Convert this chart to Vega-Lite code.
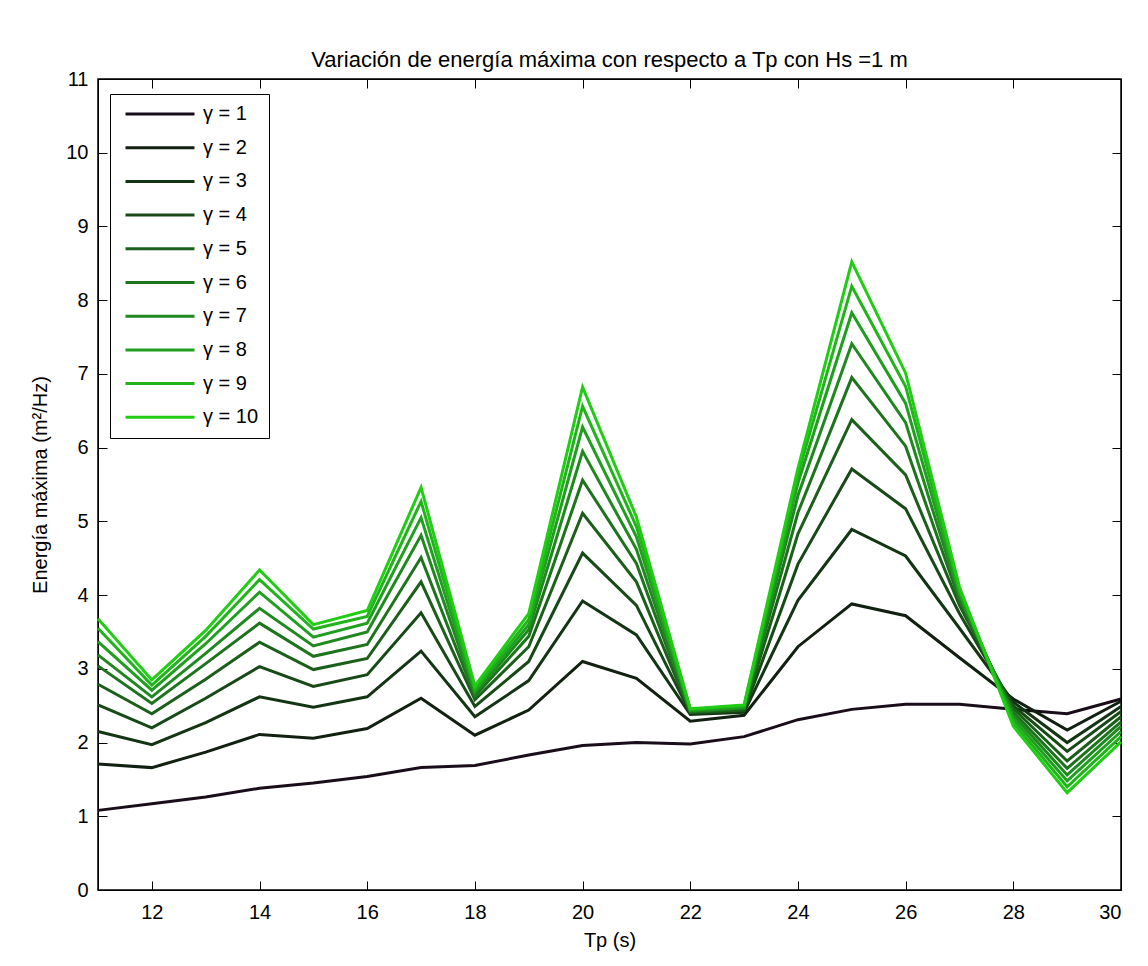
{
  "$schema": "https://vega.github.io/schema/vega-lite/v6.json",
  "width": 1023,
  "height": 811,
  "autosize": {"type": "none"},
  "padding": {"left": 98, "top": 79, "right": 27, "bottom": 76},
  "background": "white",
  "title": {"text": "Variación de energía máxima con respecto a Tp con Hs =1 m", "font": "Liberation Sans", "fontSize": 22, "fontWeight": "normal", "color": "black", "offset": -3, "anchor": "middle"},
  "config": {"view": {"stroke": "black", "strokeWidth": 1.5}, "font": "Liberation Sans"},
  "datasets": {
    "energia": [
      {"tp": 11, "gamma": 1, "e": 1.08}, {"tp": 11, "gamma": 2, "e": 1.71}, {"tp": 11, "gamma": 3, "e": 2.15}, {"tp": 11, "gamma": 4, "e": 2.51}, {"tp": 11, "gamma": 5, "e": 2.79}, {"tp": 11, "gamma": 6, "e": 3.04}, {"tp": 11, "gamma": 7, "e": 3.19}, {"tp": 11, "gamma": 8, "e": 3.37}, {"tp": 11, "gamma": 9, "e": 3.55}, {"tp": 11, "gamma": 10, "e": 3.68},
      {"tp": 12, "gamma": 1, "e": 1.17}, {"tp": 12, "gamma": 2, "e": 1.66}, {"tp": 12, "gamma": 3, "e": 1.97}, {"tp": 12, "gamma": 4, "e": 2.2}, {"tp": 12, "gamma": 5, "e": 2.39}, {"tp": 12, "gamma": 6, "e": 2.53}, {"tp": 12, "gamma": 7, "e": 2.62}, {"tp": 12, "gamma": 8, "e": 2.71}, {"tp": 12, "gamma": 9, "e": 2.78}, {"tp": 12, "gamma": 10, "e": 2.85},
      {"tp": 13, "gamma": 1, "e": 1.26}, {"tp": 13, "gamma": 2, "e": 1.87}, {"tp": 13, "gamma": 3, "e": 2.27}, {"tp": 13, "gamma": 4, "e": 2.6}, {"tp": 13, "gamma": 5, "e": 2.86}, {"tp": 13, "gamma": 6, "e": 3.07}, {"tp": 13, "gamma": 7, "e": 3.21}, {"tp": 13, "gamma": 8, "e": 3.34}, {"tp": 13, "gamma": 9, "e": 3.44}, {"tp": 13, "gamma": 10, "e": 3.52},
      {"tp": 14, "gamma": 1, "e": 1.38}, {"tp": 14, "gamma": 2, "e": 2.11}, {"tp": 14, "gamma": 3, "e": 2.62}, {"tp": 14, "gamma": 4, "e": 3.03}, {"tp": 14, "gamma": 5, "e": 3.36}, {"tp": 14, "gamma": 6, "e": 3.62}, {"tp": 14, "gamma": 7, "e": 3.82}, {"tp": 14, "gamma": 8, "e": 4.04}, {"tp": 14, "gamma": 9, "e": 4.21}, {"tp": 14, "gamma": 10, "e": 4.34},
      {"tp": 15, "gamma": 1, "e": 1.45}, {"tp": 15, "gamma": 2, "e": 2.06}, {"tp": 15, "gamma": 3, "e": 2.48}, {"tp": 15, "gamma": 4, "e": 2.76}, {"tp": 15, "gamma": 5, "e": 2.99}, {"tp": 15, "gamma": 6, "e": 3.17}, {"tp": 15, "gamma": 7, "e": 3.31}, {"tp": 15, "gamma": 8, "e": 3.43}, {"tp": 15, "gamma": 9, "e": 3.54}, {"tp": 15, "gamma": 10, "e": 3.6},
      {"tp": 16, "gamma": 1, "e": 1.54}, {"tp": 16, "gamma": 2, "e": 2.19}, {"tp": 16, "gamma": 3, "e": 2.62}, {"tp": 16, "gamma": 4, "e": 2.92}, {"tp": 16, "gamma": 5, "e": 3.14}, {"tp": 16, "gamma": 6, "e": 3.33}, {"tp": 16, "gamma": 7, "e": 3.5}, {"tp": 16, "gamma": 8, "e": 3.62}, {"tp": 16, "gamma": 9, "e": 3.71}, {"tp": 16, "gamma": 10, "e": 3.79},
      {"tp": 17, "gamma": 1, "e": 1.66}, {"tp": 17, "gamma": 2, "e": 2.6}, {"tp": 17, "gamma": 3, "e": 3.24}, {"tp": 17, "gamma": 4, "e": 3.76}, {"tp": 17, "gamma": 5, "e": 4.18}, {"tp": 17, "gamma": 6, "e": 4.51}, {"tp": 17, "gamma": 7, "e": 4.81}, {"tp": 17, "gamma": 8, "e": 5.05}, {"tp": 17, "gamma": 9, "e": 5.27}, {"tp": 17, "gamma": 10, "e": 5.46},
      {"tp": 18, "gamma": 1, "e": 1.69}, {"tp": 18, "gamma": 2, "e": 2.1}, {"tp": 18, "gamma": 3, "e": 2.35}, {"tp": 18, "gamma": 4, "e": 2.49}, {"tp": 18, "gamma": 5, "e": 2.58}, {"tp": 18, "gamma": 6, "e": 2.63}, {"tp": 18, "gamma": 7, "e": 2.67}, {"tp": 18, "gamma": 8, "e": 2.7}, {"tp": 18, "gamma": 9, "e": 2.73}, {"tp": 18, "gamma": 10, "e": 2.77},
      {"tp": 19, "gamma": 1, "e": 1.83}, {"tp": 19, "gamma": 2, "e": 2.44}, {"tp": 19, "gamma": 3, "e": 2.84}, {"tp": 19, "gamma": 4, "e": 3.1}, {"tp": 19, "gamma": 5, "e": 3.3}, {"tp": 19, "gamma": 6, "e": 3.44}, {"tp": 19, "gamma": 7, "e": 3.53}, {"tp": 19, "gamma": 8, "e": 3.6}, {"tp": 19, "gamma": 9, "e": 3.67}, {"tp": 19, "gamma": 10, "e": 3.75},
      {"tp": 20, "gamma": 1, "e": 1.96}, {"tp": 20, "gamma": 2, "e": 3.1}, {"tp": 20, "gamma": 3, "e": 3.92}, {"tp": 20, "gamma": 4, "e": 4.57}, {"tp": 20, "gamma": 5, "e": 5.11}, {"tp": 20, "gamma": 6, "e": 5.56}, {"tp": 20, "gamma": 7, "e": 5.95}, {"tp": 20, "gamma": 8, "e": 6.28}, {"tp": 20, "gamma": 9, "e": 6.56}, {"tp": 20, "gamma": 10, "e": 6.82},
      {"tp": 21, "gamma": 1, "e": 2.0}, {"tp": 21, "gamma": 2, "e": 2.87}, {"tp": 21, "gamma": 3, "e": 3.46}, {"tp": 21, "gamma": 4, "e": 3.86}, {"tp": 21, "gamma": 5, "e": 4.18}, {"tp": 21, "gamma": 6, "e": 4.43}, {"tp": 21, "gamma": 7, "e": 4.62}, {"tp": 21, "gamma": 8, "e": 4.79}, {"tp": 21, "gamma": 9, "e": 4.93}, {"tp": 21, "gamma": 10, "e": 5.06},
      {"tp": 22, "gamma": 1, "e": 1.98}, {"tp": 22, "gamma": 2, "e": 2.29}, {"tp": 22, "gamma": 3, "e": 2.38}, {"tp": 22, "gamma": 4, "e": 2.4}, {"tp": 22, "gamma": 5, "e": 2.41}, {"tp": 22, "gamma": 6, "e": 2.42}, {"tp": 22, "gamma": 7, "e": 2.43}, {"tp": 22, "gamma": 8, "e": 2.44}, {"tp": 22, "gamma": 9, "e": 2.45}, {"tp": 22, "gamma": 10, "e": 2.46},
      {"tp": 23, "gamma": 1, "e": 2.08}, {"tp": 23, "gamma": 2, "e": 2.37}, {"tp": 23, "gamma": 3, "e": 2.41}, {"tp": 23, "gamma": 4, "e": 2.43}, {"tp": 23, "gamma": 5, "e": 2.44}, {"tp": 23, "gamma": 6, "e": 2.46}, {"tp": 23, "gamma": 7, "e": 2.47}, {"tp": 23, "gamma": 8, "e": 2.48}, {"tp": 23, "gamma": 9, "e": 2.5}, {"tp": 23, "gamma": 10, "e": 2.51},
      {"tp": 24, "gamma": 1, "e": 2.31}, {"tp": 24, "gamma": 2, "e": 3.3}, {"tp": 24, "gamma": 3, "e": 3.93}, {"tp": 24, "gamma": 4, "e": 4.42}, {"tp": 24, "gamma": 5, "e": 4.83}, {"tp": 24, "gamma": 6, "e": 5.12}, {"tp": 24, "gamma": 7, "e": 5.35}, {"tp": 24, "gamma": 8, "e": 5.52}, {"tp": 24, "gamma": 9, "e": 5.63}, {"tp": 24, "gamma": 10, "e": 5.72},
      {"tp": 25, "gamma": 1, "e": 2.45}, {"tp": 25, "gamma": 2, "e": 3.88}, {"tp": 25, "gamma": 3, "e": 4.89}, {"tp": 25, "gamma": 4, "e": 5.71}, {"tp": 25, "gamma": 5, "e": 6.38}, {"tp": 25, "gamma": 6, "e": 6.95}, {"tp": 25, "gamma": 7, "e": 7.41}, {"tp": 25, "gamma": 8, "e": 7.83}, {"tp": 25, "gamma": 9, "e": 8.19}, {"tp": 25, "gamma": 10, "e": 8.52},
      {"tp": 26, "gamma": 1, "e": 2.52}, {"tp": 26, "gamma": 2, "e": 3.72}, {"tp": 26, "gamma": 3, "e": 4.53}, {"tp": 26, "gamma": 4, "e": 5.17}, {"tp": 26, "gamma": 5, "e": 5.63}, {"tp": 26, "gamma": 6, "e": 6.02}, {"tp": 26, "gamma": 7, "e": 6.34}, {"tp": 26, "gamma": 8, "e": 6.6}, {"tp": 26, "gamma": 9, "e": 6.83}, {"tp": 26, "gamma": 10, "e": 7.01},
      {"tp": 27, "gamma": 1, "e": 2.52}, {"tp": 27, "gamma": 2, "e": 3.15}, {"tp": 27, "gamma": 3, "e": 3.55}, {"tp": 27, "gamma": 4, "e": 3.75}, {"tp": 27, "gamma": 5, "e": 3.86}, {"tp": 27, "gamma": 6, "e": 3.93}, {"tp": 27, "gamma": 7, "e": 3.98}, {"tp": 27, "gamma": 8, "e": 4.03}, {"tp": 27, "gamma": 9, "e": 4.07}, {"tp": 27, "gamma": 10, "e": 4.11},
      {"tp": 28, "gamma": 1, "e": 2.45}, {"tp": 28, "gamma": 2, "e": 2.59}, {"tp": 28, "gamma": 3, "e": 2.55}, {"tp": 28, "gamma": 4, "e": 2.5}, {"tp": 28, "gamma": 5, "e": 2.46}, {"tp": 28, "gamma": 6, "e": 2.41}, {"tp": 28, "gamma": 7, "e": 2.37}, {"tp": 28, "gamma": 8, "e": 2.32}, {"tp": 28, "gamma": 9, "e": 2.27}, {"tp": 28, "gamma": 10, "e": 2.22},
      {"tp": 29, "gamma": 1, "e": 2.39}, {"tp": 29, "gamma": 2, "e": 2.17}, {"tp": 29, "gamma": 3, "e": 2.0}, {"tp": 29, "gamma": 4, "e": 1.88}, {"tp": 29, "gamma": 5, "e": 1.75}, {"tp": 29, "gamma": 6, "e": 1.65}, {"tp": 29, "gamma": 7, "e": 1.56}, {"tp": 29, "gamma": 8, "e": 1.48}, {"tp": 29, "gamma": 9, "e": 1.4}, {"tp": 29, "gamma": 10, "e": 1.32},
      {"tp": 30, "gamma": 1, "e": 2.59}, {"tp": 30, "gamma": 2, "e": 2.56}, {"tp": 30, "gamma": 3, "e": 2.49}, {"tp": 30, "gamma": 4, "e": 2.42}, {"tp": 30, "gamma": 5, "e": 2.35}, {"tp": 30, "gamma": 6, "e": 2.28}, {"tp": 30, "gamma": 7, "e": 2.22}, {"tp": 30, "gamma": 8, "e": 2.15}, {"tp": 30, "gamma": 9, "e": 2.08}, {"tp": 30, "gamma": 10, "e": 2.01}
    ]
  },
  "data": {"name": "energia"},
  "layer": [
    {
      "mark": {"type": "line", "strokeWidth": 3},
      "encoding": {
        "x": {
          "field": "tp", "type": "quantitative",
          "scale": {"domain": [11, 30], "nice": false, "zero": false},
          "axis": {"title": "Tp (s)", "values": [12, 14, 16, 18, 20, 22, 24, 26, 28, 30], "grid": false, "tickSize": -9, "tickColor": "black", "domainColor": "black", "labelPadding": 21, "labelFontSize": 20, "labelColor": "black", "titleFontSize": 20, "titleFontWeight": "normal", "titleColor": "black", "titlePadding": 8, "labelFont": "Liberation Sans", "titleFont": "Liberation Sans"}
        },
        "y": {
          "field": "e", "type": "quantitative",
          "scale": {"domain": [0, 11], "nice": false},
          "axis": {"title": "Energía máxima (m²/Hz)", "values": [0, 1, 2, 3, 4, 5, 6, 7, 8, 9, 10, 11], "grid": false, "tickSize": -9, "tickColor": "black", "domainColor": "black", "labelPadding": 19, "labelFontSize": 20, "labelColor": "black", "titleFontSize": 20, "titleFontWeight": "normal", "titleColor": "black", "titlePadding": 15, "labelFont": "Liberation Sans", "titleFont": "Liberation Sans"}
        },
        "color": {
          "field": "gamma", "type": "ordinal",
          "scale": {"range": ["#1a0d1a", "#112011", "#143514", "#184a18", "#1b5f1b", "#1d741d", "#1f891f", "#1f9e1f", "#20b41a", "#20cc14"]},
          "legend": {"orient": "none", "legendX": 12, "legendY": 15, "title": null, "symbolType": "stroke", "symbolSize": 4761, "symbolStrokeWidth": 3, "symbolOffset": 4, "labelFontSize": 20, "labelFont": "Liberation Sans", "labelColor": "black", "labelOffset": 7, "clipHeight": 20, "rowPadding": 13.7, "padding": 10, "strokeColor": "black", "fillColor": "white", "labelExpr": "'γ = ' + datum.label"}
        }
      }
    },
    {
      "mark": {"type": "point", "opacity": 0},
      "encoding": {
        "x": {"field": "tp", "type": "quantitative", "axis": {"orient": "top", "labels": false, "title": null, "values": [12, 14, 16, 18, 20, 22, 24, 26, 28, 30], "grid": false, "tickSize": -9, "tickColor": "black", "domainColor": "black"}},
        "y": {"field": "e", "type": "quantitative", "axis": {"orient": "right", "labels": false, "title": null, "values": [0, 1, 2, 3, 4, 5, 6, 7, 8, 9, 10, 11], "grid": false, "tickSize": -9, "tickColor": "black", "domainColor": "black"}}
      }
    }
  ],
  "resolve": {"axis": {"x": "independent", "y": "independent"}}
}
